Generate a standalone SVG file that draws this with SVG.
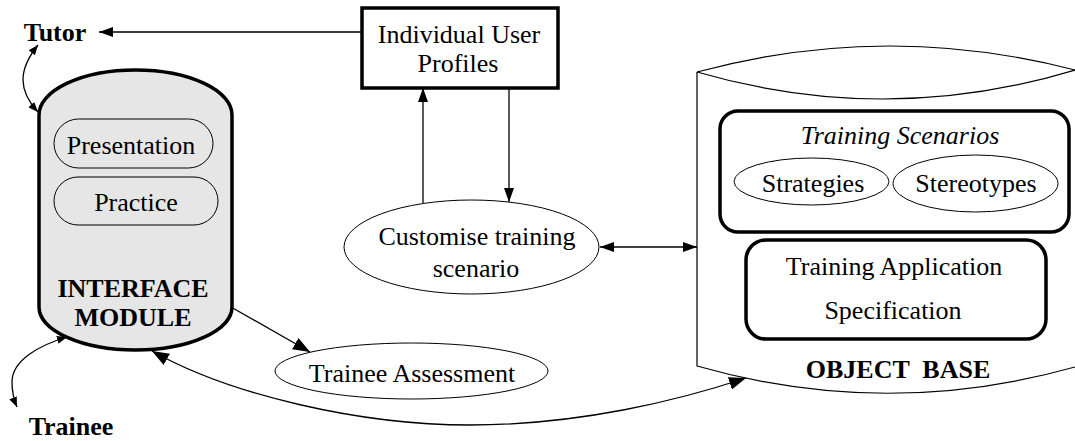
<svg xmlns="http://www.w3.org/2000/svg" width="1075" height="441" viewBox="0 0 1075 441">
<style>
text{font-family:"Liberation Serif","Times New Roman",serif;font-size:26px;fill:#000;text-anchor:middle}
.b{font-weight:bold}
.i{font-style:italic}
.thin{fill:none;stroke:#000;stroke-width:1.2}
.con{fill:none;stroke:#000;stroke-width:1.3}
</style>
<defs>
<marker id="ah" viewBox="0 0 14 10" refX="14" refY="5" markerWidth="14" markerHeight="10" orient="auto-start-reverse" markerUnits="userSpaceOnUse"><path d="M0,0 L14,5 L0,10 z" fill="#000"/></marker>
<marker id="big" viewBox="0 0 17 13" refX="17" refY="6.5" markerWidth="17" markerHeight="13" orient="auto-start-reverse" markerUnits="userSpaceOnUse"><path d="M0,0 L17,6.5 L0,13 z" fill="#000"/></marker>
<marker id="sm" viewBox="0 0 10 8" refX="10" refY="4" markerWidth="10" markerHeight="8" orient="auto-start-reverse" markerUnits="userSpaceOnUse"><path d="M0,0 L10,4 L0,8 z" fill="#000"/></marker>
</defs>

<g id="tutor"><text class="b" x="55" y="41">Tutor</text></g>
<g id="trainee"><text class="b" x="71" y="435">Trainee</text></g>

<g id="interface-module">
<path d="M39,115 A96.5,45 0 0 1 232,115 L232,307 A96.5,43 0 0 1 39,307 Z" fill="#e6e6e6" stroke="#000" stroke-width="3.5"/>
<rect x="54" y="119" width="159" height="49" rx="24.5" fill="#e6e6e6" stroke="#000" stroke-width="1"/>
<text x="131" y="154">Presentation</text>
<rect x="54" y="177" width="164" height="48" rx="24" fill="#e6e6e6" stroke="#000" stroke-width="1"/>
<text x="136" y="211">Practice</text>
<text class="b" x="133" y="297">INTERFACE</text>
<text class="b" x="133" y="326">MODULE</text>
</g>

<g id="user-profiles">
<rect x="362" y="8" width="196" height="80" fill="#fff" stroke="#000" stroke-width="3.5"/>
<text x="459" y="43">Individual User</text>
<text x="458" y="72">Profiles</text>
</g>

<g id="customise">
<ellipse cx="471.5" cy="247" rx="127.5" ry="47" fill="#fff" stroke="#000" stroke-width="1"/>
<text x="477" y="245">Customise training</text>
<text x="476" y="277">scenario</text>
</g>

<g id="trainee-assessment">
<ellipse cx="411.5" cy="371" rx="136.5" ry="28" fill="#fff" stroke="#000" stroke-width="1"/>
<text x="412" y="382">Trainee Assessment</text>
</g>

<g id="object-base">
<path d="M697,72 Q886,21 1075,70" class="thin"/>
<path d="M697,72 Q886,127 1075,70" class="thin"/>
<path d="M697,72 L697,366 Q886,420 1075,367" class="thin"/>
<text class="b" x="898" y="378" xml:space="preserve">OBJECT  BASE</text>
</g>

<g id="training-scenarios">
<rect x="720" y="111" width="349" height="121" rx="18" fill="none" stroke="#000" stroke-width="3.5"/>
<text class="i" x="900" y="144">Training Scenarios</text>
</g>
<g id="strategies">
<ellipse cx="811.5" cy="181.5" rx="77.5" ry="23.5" fill="none" stroke="#000" stroke-width="1"/>
<text x="813" y="192">Strategies</text>
</g>
<g id="stereotypes">
<ellipse cx="975.5" cy="183.5" rx="82.5" ry="28.5" fill="none" stroke="#000" stroke-width="1"/>
<text x="976" y="192">Stereotypes</text>
</g>

<g id="training-application">
<rect x="746" y="240" width="300" height="99" rx="20" fill="none" stroke="#000" stroke-width="3.5"/>
<text x="894" y="275">Training Application</text>
<text x="893" y="319">Specification</text>
</g>

<g id="connectors">
<line x1="362" y1="32" x2="99" y2="32" class="con" marker-end="url(#ah)"/>
<line x1="423" y1="203" x2="423" y2="88" class="con" marker-end="url(#ah)"/>
<line x1="509" y1="88" x2="509" y2="202" class="con" marker-end="url(#ah)"/>
<line x1="600" y1="247" x2="697" y2="247" class="con" marker-start="url(#ah)" marker-end="url(#ah)"/>
<line x1="231" y1="307" x2="310" y2="352" class="con" marker-end="url(#big)"/>
<path d="M152,351 C230,395 360,425 470,425 C580,425 680,400 746,378" class="con" marker-start="url(#big)" marker-end="url(#big)"/>
<path d="M38,45 C18,70 18,90 38,112" class="con" marker-start="url(#sm)" marker-end="url(#sm)"/>
<path d="M67,337 C40,345 12,360 12,382 C12,392 14,400 17,407" class="con" marker-start="url(#sm)" marker-end="url(#sm)"/>
</g>
</svg>
